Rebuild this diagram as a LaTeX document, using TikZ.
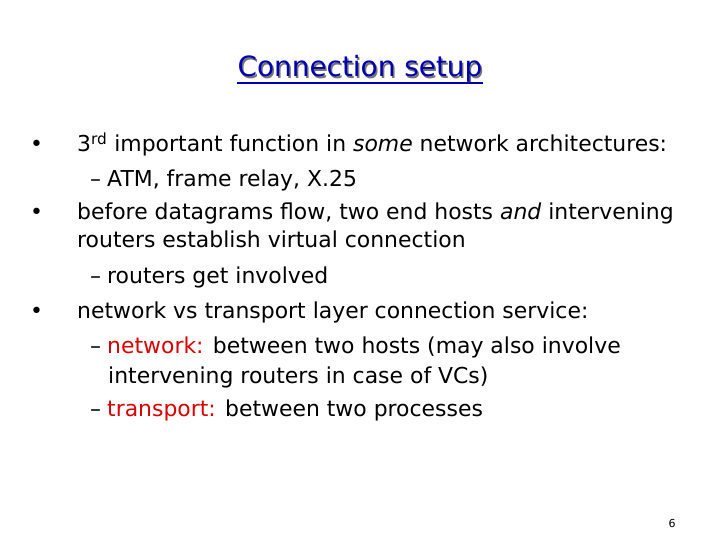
\documentclass[tikz,border=0pt]{standalone}
\usepackage{fontspec}
\setmainfont{DejaVu Sans}
\begin{document}
\begin{tikzpicture}[x=1bp,y=-1bp,
  t/.style={anchor=base west,inner sep=0pt,font=\fontsize{22}{26}\selectfont}]
\useasboundingbox (0,0) rectangle (720,540);
\fill[white] (0,0) rectangle (720,540);
\node[anchor=base,inner sep=0pt,font=\fontsize{28}{32}\selectfont,text=black!55] (sh) at (361.5,78.5) {Connection setup};
\node[anchor=base,inner sep=0pt,font=\fontsize{28}{32}\selectfont,text=blue!70!black] (title) at (360,77) {Connection setup};
\draw[blue!70!black,line width=1.3] ([yshift=-6]title.base west) -- ([yshift=-6]title.base east);
\node[t] (b1) at (30,152) {•};
\node[t] (l1) at (77,152) {3\textsuperscript{rd} important function in \textit{some} network architectures:};
\node[t] (d1) at (90,187) {–};
\node[t] (l2) at (107,187) {ATM, frame relay, X.25};
\node[t] (b2) at (30,220) {•};
\node[t] (l3) at (77,220) {before datagrams flow, two end hosts \textit{and} intervening};
\node[t] (l4) at (77,248) {routers establish virtual connection};
\node[t] (d2) at (90,284) {–};
\node[t] (l5) at (107,284) {routers get involved};
\node[t] (b3) at (30,318) {•};
\node[t] (l6) at (77,318) {network vs transport layer connection service:};
\node[t] (d3) at (90,353) {–};
\node[t] (l7) at (107,353) {\textcolor{red!85!black}{network:} between two hosts (may also involve};
\node[t] (l8) at (108,383) {intervening routers in case of VCs)};
\node[t] (d4) at (90,416) {–};
\node[t] (l9) at (107,416) {\textcolor{red!85!black}{transport:} between two processes};
\node[anchor=base,inner sep=0pt,font=\fontsize{11}{13}\selectfont] (pg) at (672,527) {6};
\end{tikzpicture}
\end{document}
